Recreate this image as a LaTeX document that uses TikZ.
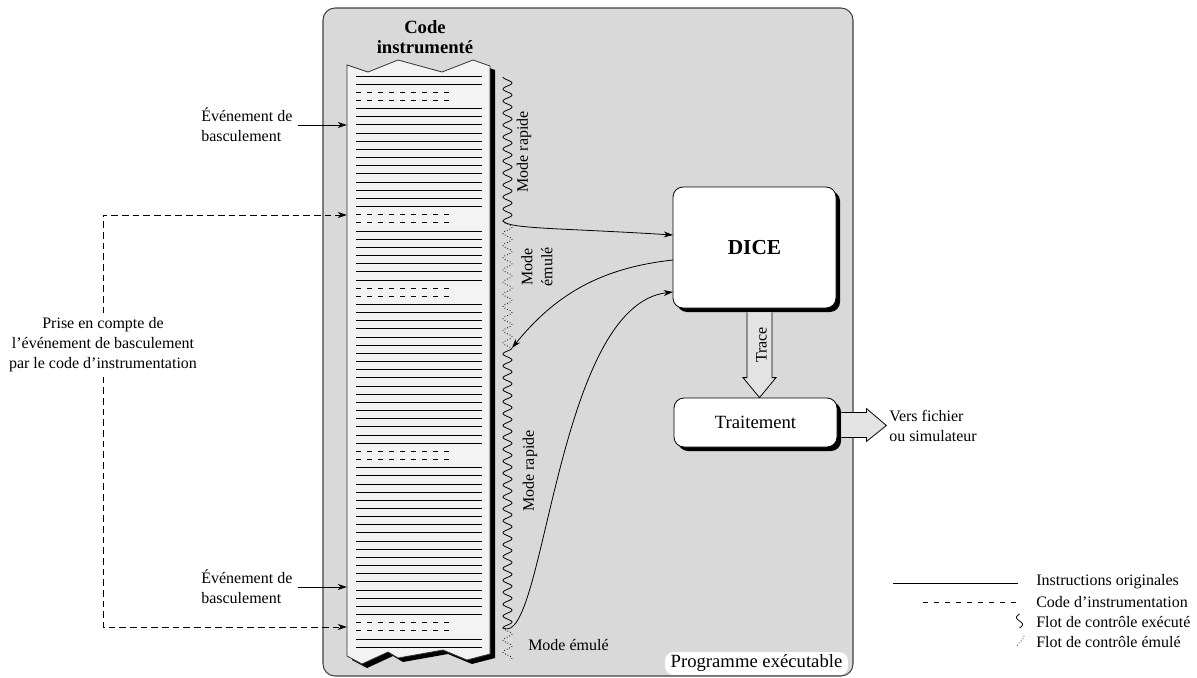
\documentclass[tikz,border=0pt]{standalone}
\usepackage{fontspec}
\setmainfont{Liberation Serif}
\usetikzlibrary{arrows.meta,shadows,calc}
\definecolor{panel}{HTML}{D9D9D9}
\definecolor{pagefill}{HTML}{F3F3F3}
\definecolor{arrowfill}{HTML}{E3E3E3}
\begin{document}
\begin{tikzpicture}[x=0.75pt,y=-0.75pt,
  lbl/.style={font=\fontsize{12}{15}\selectfont, inner sep=0pt},
  box/.style={draw=black, fill=white, rounded corners=7.5pt, line width=0.6pt,
    drop shadow={fill=black, opacity=1, shadow xshift=3pt, shadow yshift=-3pt}},
  tip/.style={-{Stealth[length=7pt,width=4.5pt]}},
  codeline/.style={line width=0.7pt},
  instr/.style={line width=0.7pt, dash pattern=on 3.75pt off 4.5pt},
  conn/.style={line width=0.7pt, dash pattern=on 5pt off 3pt},
  wave/.style={line width=0.6pt},
  emul/.style={line width=0.7pt, dash pattern=on 0.5pt off 1.6pt},
  bigarrow/.style={draw=black, fill=arrowfill, line width=0.6pt, line join=miter}]
\useasboundingbox (0,0) rectangle (1197,678);

% panel
\draw[fill=panel, draw=black!75, line width=0.8pt, rounded corners=9pt] (323,8) rectangle (853,676);
\node[fill=white, rounded corners=6pt, minimum width=137pt, minimum height=17pt, inner sep=0pt,
  font=\fontsize{14}{16}\selectfont] (prog) at (756.5,663.5) {Programme exécutable};

% code page
\fill[black, shift={(5,4)}] (347,65) -- (368,72) -- (398,60) -- (442,72) -- (473,60) -- (490,66)
  -- (490,654) -- (467,660) -- (443,650) -- (398,658) -- (388,652) -- (362,664) -- (347,656) -- cycle;
\draw[fill=pagefill, draw=black!80, line width=0.6pt] (347,65) -- (368,72) -- (398,60) -- (442,72) -- (473,60) -- (490,66)
  -- (490,654) -- (467,660) -- (443,650) -- (398,658) -- (388,652) -- (362,664) -- (347,656) -- cycle;
\foreach \i in {0,1,4,5,...,16,19,20,...,25,28,29,...,45,48,49,...,66,69,70}
  \draw[codeline] (356,76+8.16*\i) -- (482,76+8.16*\i);
\foreach \i in {2,3,17,18,26,27,46,47,67,68}
  \draw[instr] (356,76+8.16*\i) -- (449,76+8.16*\i);
\node[font=\bfseries\fontsize{14}{15}\selectfont, align=center, inner sep=0pt] (title) at (425,37) {Code\\instrumenté};

% coordinates on page and DICE
\coordinate (p1) at (347,125);
\coordinate (p2) at (347,587);
\coordinate (c1) at (347,215);
\coordinate (c2) at (347,627);

% boxes
\node[box, minimum width=122.25pt, minimum height=90.75pt, font=\bfseries\fontsize{16}{19}\selectfont] (dice) at (754.5,247.5) {DICE};
\node[box, minimum width=122.25pt, minimum height=36.75pt, font=\fontsize{14}{17}\selectfont] (trait) at (755.5,422.5) {Traitement};
\coordinate (d1) at (673,235);
\coordinate (d2) at (673,260);
\coordinate (d3) at (673,292);
\coordinate (w2) at (512,348);

% control flow
\draw[wave, tip] plot[variable=\t, domain=77:221, samples=240] ({507.5-4.5*cos(30*(\t-77))},\t)
  .. controls (509,229) and (560,228) .. (d1);
\draw[emul] plot[variable=\t, domain=221:348, samples=200] ({507.5-4.5*cos(29.508*(\t-221))},\t);
\draw[wave, tip] (d2) .. controls (600,268) and (555,295) .. (w2);
\draw[wave, tip] plot[variable=\t, domain=348:628, samples=400] ({507.5+4.5*cos(30.214*(\t-348))},\t)
  .. controls (545,650) and (555,305) .. (d3);
\draw[emul] plot[variable=\t, domain=628:660, samples=60] ({507.5-4.5*cos(30*(\t-628))},\t);

\node[lbl, rotate=90] (mr1) at (524,152) {Mode rapide};
\node[lbl, rotate=90, align=center] (me1) at (537,267) {Mode\\émulé};
\node[lbl, rotate=90] (mr2) at (530,471) {Mode rapide};
\node[lbl, anchor=west] (me2) at (528,645) {Mode émulé};

% trace arrow
\draw[bigarrow] ($(dice.south)+(-7.5,4)$) -- ($(trait.north)+(-8.5,-20)$) -- ($(trait.north)+(-12.5,-20)$)
  -- ($(trait.north)+(4,0)$) -- ($(trait.north)+(20.5,-20)$) -- ($(trait.north)+(16.5,-20)$) -- ($(dice.south)+(17.5,4)$);
\node[lbl, rotate=90] (trace) at (761.5,345) {Trace};

% output arrow
\draw[bigarrow] ($(trait.east)+(4,-10)$) -- ($(trait.east)+(29,-10)$) -- ($(trait.east)+(29,-14)$)
  -- ($(trait.east)+(49,3)$) -- ($(trait.east)+(29,19)$) -- ($(trait.east)+(29,15)$) -- ($(trait.east)+(4,15)$);
\node[lbl, anchor=west, align=left] (out) at (889,425.5) {Vers fichier\\ou simulateur};

% left labels and connectors
\node[lbl, anchor=west, align=left] (ev1) at (201,125) {Événement de\\basculement};
\node[lbl, anchor=west, align=left] (ev2) at (201,587) {Événement de\\basculement};
\draw[line width=0.7pt, tip] ([xshift=4pt]ev1.east) -- (p1);
\draw[line width=0.7pt, tip] ([xshift=4pt]ev2.east) -- (p2);
\node[lbl, align=center, inner sep=3pt] (prise) at (103,345) {Prise en compte de\\l'événement de basculement\\par le code d'instrumentation};
\draw[conn, tip] (prise.north) |- (c1);
\draw[conn, tip] (prise.south) |- (c2);

% legend
\node[lbl, anchor=west] (lg1) at (1036,582) {Instructions originales};
\node[lbl, anchor=west] (lg2) at (1036,602) {Code d'instrumentation};
\node[lbl, anchor=west] (lg3) at (1036,622) {Flot de contrôle exécuté};
\node[lbl, anchor=west] (lg4) at (1036,642) {Flot de contrôle émulé};
\draw[codeline] (893,583) -- (1018,583);
\draw[instr] (923,602) -- (1018,602);
\draw[wave] plot[variable=\t, domain=614:628, samples=40] ({1019.5-3*sin(25.714*(\t-614))},\t);
\draw[emul] plot[variable=\t, domain=636:647, samples=30] ({1020.5+3.5*cos(16.364*(\t-636))},\t);
\end{tikzpicture}
\end{document}
